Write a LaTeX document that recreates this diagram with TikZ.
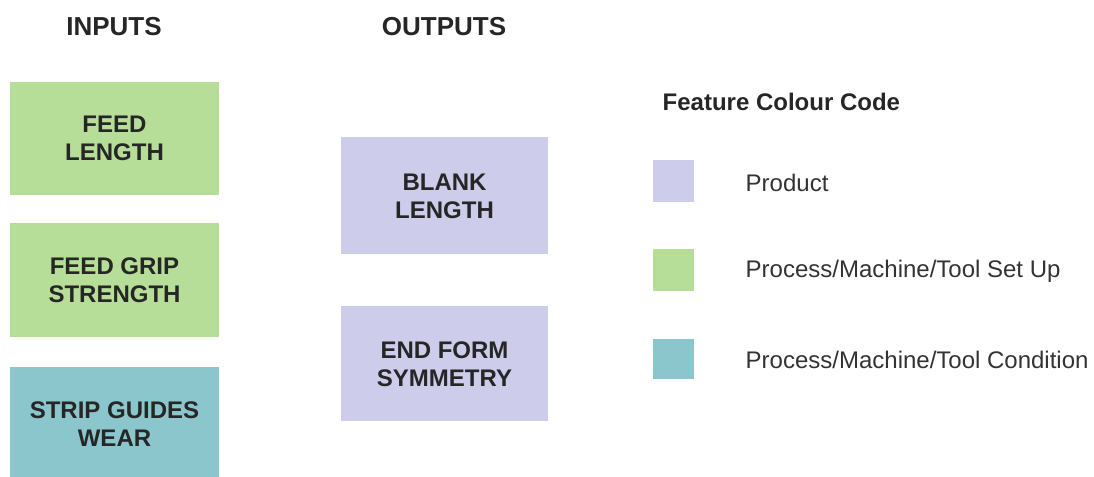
\documentclass[tikz,border=0pt]{standalone}
\usepackage{fontspec}
\setmainfont{Liberation Sans}
\definecolor{setup}{HTML}{B6DE98}
\definecolor{product}{HTML}{CDCDEB}
\definecolor{cond}{HTML}{8AC6CB}
\begin{document}
\begin{tikzpicture}[x=0.75pt,y=-0.75pt,
  feat/.style={draw=none,fill=#1},
  boxtext/.style={font=\fontsize{18}{21}\selectfont\bfseries,align=center,text=black!85},
  header/.style={font=\fontsize{19.5}{23}\selectfont\bfseries,text=black!85},
  legtext/.style={font=\fontsize{18}{21}\selectfont,text=black!80,anchor=west}]
\useasboundingbox (0,0) rectangle (1094,477);
% inputs
\path[feat=setup] (10,82) rectangle (219,195);
\node[boxtext] (fl) at (114.5,138.5) {FEED\\LENGTH};
\path[feat=setup] (10,223) rectangle (219,337);
\node[boxtext] (fg) at (114.5,280) {FEED GRIP\\STRENGTH};
\path[feat=cond] (10,367) rectangle (219,477);
\node[boxtext] (sg) at (114.5,424) {STRIP GUIDES\\WEAR};
% outputs
\path[feat=product] (341,137) rectangle (548,254);
\node[boxtext] (bl) at (444.5,196) {BLANK\\LENGTH};
\path[feat=product] (341,306) rectangle (548,421);
\node[boxtext] (ef) at (444.5,364) {END FORM\\SYMMETRY};
% headers
\node[header] (hin) at (114,27) {INPUTS};
\node[header] (hout) at (444,27) {OUTPUTS};
% legend
\node[font=\fontsize{18}{21}\selectfont\bfseries,text=black!85,anchor=west] (lt) at (658,102) {Feature Colour Code};
\path[feat=product] (653,160) rectangle (694,202);
\node[legtext] (l1) at (741,183) {Product};
\path[feat=setup] (653,249) rectangle (694,291);
\node[legtext] (l2) at (741,271) {Process/Machine/Tool Set Up};
\path[feat=cond] (653,339) rectangle (694,379);
\node[legtext] (l3) at (741,360) {Process/Machine/Tool Condition};
\end{tikzpicture}
\end{document}
